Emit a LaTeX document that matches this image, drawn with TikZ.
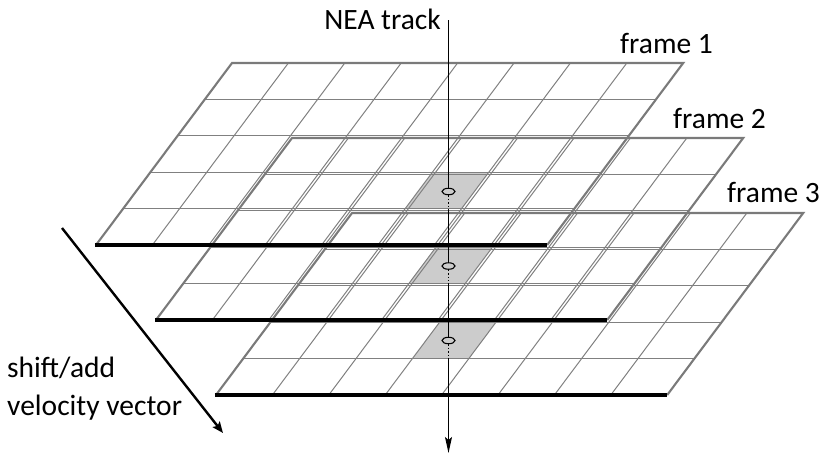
\documentclass[tikz,border=0pt]{standalone}
\usepackage{fontspec}
\setmainfont{Carlito}
\usetikzlibrary{arrows.meta,shapes.geometric}
\tikzset{
  innerline/.style={draw=black!50, line width=1pt},
  outerline/.style={draw=black!52, line width=2.1pt, line join=miter},
  bottomline/.style={draw=black, line width=4.6pt},
  shadecell/.style={fill=black!20, draw=none},
  lbl/.style={font=\fontsize{29.5}{38}\selectfont, inner sep=0pt, text=black},
  marker/.style={ellipse, draw=black, line width=1.1pt, minimum width=13pt, minimum height=6.5pt, inner sep=0pt},
  trackline/.style={draw=black, line width=1.4pt},
  dotline/.style={draw=black, line width=1.6pt, dash pattern=on 1.4pt off 2pt},
}
\newcommand{\gridgray}[2]{%
  \begin{scope}[shift={(232+#1,63+#2)}, x={(56.4pt,0pt)}, y={(-27.2pt,-36.4pt)}]
    \foreach \u in {1,...,7} \draw[innerline] (\u,0) -- (\u,5);
    \foreach \v in {1,...,4} \draw[innerline] (0,\v) -- (8,\v);
    \draw[outerline] (0,5) -- (0,0) -- (8,0) -- (8,5);
  \end{scope}}
\newcommand{\gridblack}[2]{%
  \begin{scope}[shift={(232+#1,63+#2)}, x={(56.4pt,0pt)}, y={(-27.2pt,-36.4pt)}]
    \draw[bottomline] (-0.02,5) -- (8,5);
  \end{scope}}
\newcommand{\gridcell}[3]{%
  \begin{scope}[shift={(232+#1,63+#2)}, x={(56.4pt,0pt)}, y={(-27.2pt,-36.4pt)}]
    \fill[shadecell] (#3,3) -- (#3+1,3) -- (#3+1,4) -- (#3,4) -- cycle;
  \end{scope}}
\begin{document}
\begin{tikzpicture}[x=1pt,y=-1pt]
\useasboundingbox (0,0) rectangle (830,458);
% shaded cells
\gridcell{0}{0}{5}
\gridcell{60}{75}{4}
\gridcell{120}{150}{3}
% grids
\gridgray{0}{0}
\gridgray{60}{75}
\gridgray{120}{150}
\gridblack{0}{0}
\gridblack{60}{75}
\gridblack{120}{150}
% labels
\node[lbl, anchor=base west] (f1) at (620,53) {frame 1};
\node[lbl, anchor=base west] (f2) at (673,128) {frame 2};
\node[lbl, anchor=base west] (f3) at (727,202) {frame 3};
\node[lbl, anchor=base east] (nea) at (441,29) {NEA track};
\node[lbl, anchor=base west, align=left] (vel) at (7,415) {shift/add\\velocity vector};
% track
\node[marker] (e1) at (448.5,191.5) {};
\node[marker] (e2) at (448.5,266) {};
\node[marker] (e3) at (448.5,340.5) {};
\coordinate (t0) at (448.5,20);
\coordinate (b1) at (448.5,210);
\coordinate (b2) at (448.5,284.5);
\coordinate (b3) at (448.5,358.5);
\coordinate (t4) at (448.5,453);
\draw[trackline] (t0) -- (e1.north);
\draw[dotline] (e1.south) -- (b1);
\draw[trackline] (b1) -- (e2.north);
\draw[dotline] (e2.south) -- (b2);
\draw[trackline] (b2) -- (e3.north);
\draw[dotline] (e3.south) -- (b3);
\draw[trackline, -{Stealth[length=16pt, width=7pt, inset=3pt]}] (b3) -- (t4);
% velocity arrow
\coordinate (va) at (62,228);
\coordinate (vb) at (223,433);
\draw[draw=black, line width=2.4pt, -{Stealth[length=11pt, width=9pt, inset=2pt]}] (va) -- (vb);
\end{tikzpicture}
\end{document}
